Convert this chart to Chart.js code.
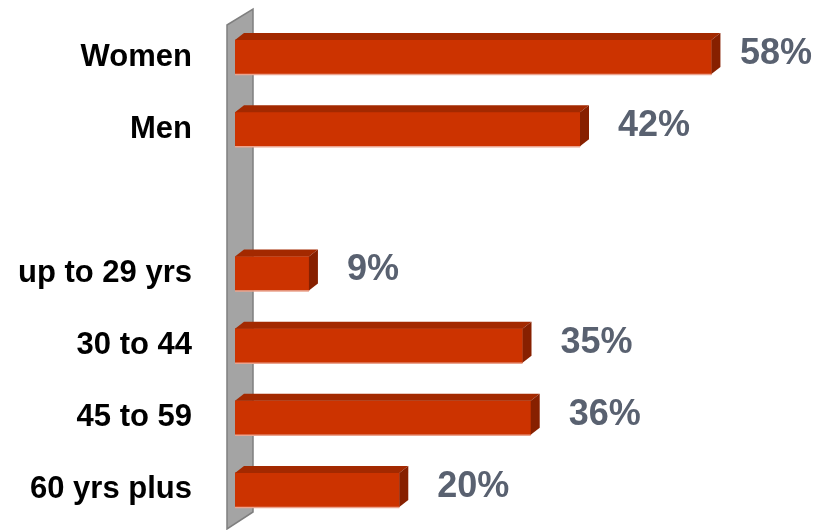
<!DOCTYPE html>
<html>
<head>
<meta charset="utf-8">
<script src="https://cdn.jsdelivr.net/npm/chart.js@4"></script>
<style>
  body { margin: 0; background: #fff; }
  #wrap { width: 818px; height: 530px; position: relative; }
</style>
</head>
<body>
<div id="wrap"><canvas id="shareChart"></canvas></div>
<script>
// audience split, the empty category is the gap between gender and age groups
const categories = ['Women', 'Men', '', 'up to 29 yrs', '30 to 44', '45 to 59', '60 yrs plus'];
const shares = [58, 42, null, 9, 35, 36, 20];

const FONT = "'Liberation Sans', Arial, sans-serif";
const DEPTH_X = 9, DEPTH_Y = 7;

// gray 3D wall behind the bars
const wallPlugin = {
  id: 'wall',
  beforeDatasetsDraw(chart) {
    const { ctx, chartArea } = chart;
    const l = chartArea.left - 8, r = chartArea.left + 18;
    ctx.save();
    ctx.beginPath();
    ctx.moveTo(l, chartArea.top + 4);
    ctx.lineTo(r, chartArea.top - 12);
    ctx.lineTo(r, chartArea.bottom - 14);
    ctx.lineTo(l, chartArea.bottom + 3);
    ctx.closePath();
    ctx.fillStyle = '#a4a4a4';
    ctx.fill();
    ctx.lineWidth = 1.5;
    ctx.strokeStyle = '#7f7f7f';
    ctx.stroke();
    ctx.restore();
  }
};

// top and side faces of each bar plus the value labels
const bar3dPlugin = {
  id: 'bar3d',
  afterDatasetsDraw(chart) {
    const { ctx } = chart;
    const meta = chart.getDatasetMeta(0);
    ctx.save();
    meta.data.forEach((bar, i) => {
      if (shares[i] == null) return;
      const { x, y, base, height } = bar.getProps(['x', 'y', 'base', 'height'], true);
      const top = y - height / 2, bottom = y + height / 2;

      ctx.fillStyle = '#a32900';
      ctx.beginPath();
      ctx.moveTo(base, top);
      ctx.lineTo(base + DEPTH_X, top - DEPTH_Y);
      ctx.lineTo(x + DEPTH_X, top - DEPTH_Y);
      ctx.lineTo(x, top);
      ctx.closePath();
      ctx.fill();

      ctx.fillStyle = '#872000';
      ctx.beginPath();
      ctx.moveTo(x, top);
      ctx.lineTo(x + DEPTH_X, top - DEPTH_Y);
      ctx.lineTo(x + DEPTH_X, bottom - DEPTH_Y);
      ctx.lineTo(x, bottom);
      ctx.closePath();
      ctx.fill();

      ctx.strokeStyle = '#eaa48f';
      ctx.lineWidth = 1.5;
      ctx.beginPath();
      ctx.moveTo(base, bottom + 0.5);
      ctx.lineTo(x, bottom + 0.5);
      ctx.stroke();

      ctx.font = 'bold 36px ' + FONT;
      ctx.fillStyle = '#596170';
      ctx.textBaseline = 'middle';
      const txt = shares[i] + '%';
      const tw = ctx.measureText(txt).width;
      const tx = Math.min(x + 38, chart.width - tw - 6);
      ctx.fillText(txt, tx, y - 3);
    });
    ctx.restore();
  }
};

new Chart(document.getElementById('shareChart').getContext('2d'), {
  type: 'bar',
  data: {
    labels: categories,
    datasets: [{
      data: shares,
      backgroundColor: '#cc3300',
      borderWidth: 0,
      barThickness: 34
    }]
  },
  options: {
    indexAxis: 'y',
    responsive: true,
    maintainAspectRatio: false,
    animation: false,
    layout: { padding: { top: 21, bottom: 4, right: 8, left: 0 } },
    plugins: { legend: { display: false }, tooltip: { enabled: false } },
    scales: {
      x: { display: false, min: 0, max: 70 },
      y: {
        afterFit(scale) {
          scale.width = 235;
          // tick padding would otherwise also pad top and bottom
          scale.paddingTop = 0;
          scale.paddingBottom = 0;
        },
        grid: { display: false, drawTicks: false },
        border: { display: false },
        ticks: {
          padding: 43,
          color: '#000',
          font: { family: FONT, size: 31, weight: 'bold' }
        }
      }
    }
  },
  plugins: [wallPlugin, bar3dPlugin]
});
</script>
</body>
</html>
